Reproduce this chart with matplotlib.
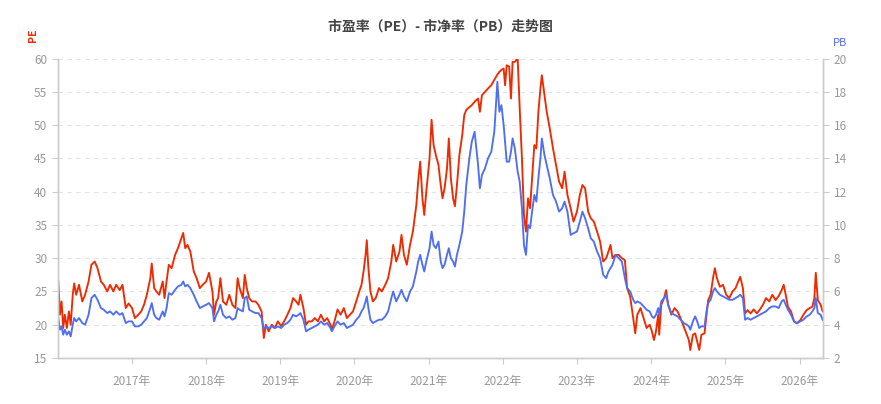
import pandas as pd
import matplotlib
matplotlib.use("Agg")
import matplotlib.pyplot as plt
import matplotlib.dates as mdates

plt.rcParams['font.family'] = ['Noto Sans CJK SC', 'DejaVu Sans']

# dates of the samples
dates = [
    "2016-01-04", "2016-01-12", "2016-01-20", "2016-01-28", "2016-02-05", "2016-02-15", "2016-02-25",
    "2016-03-05", "2016-03-15", "2016-03-22", "2016-04-01", "2016-04-15", "2016-05-01", "2016-05-15",
    "2016-06-01", "2016-06-15", "2016-07-01", "2016-07-15", "2016-08-01", "2016-08-15", "2016-09-01",
    "2016-09-15", "2016-10-01", "2016-10-15", "2016-11-01", "2016-11-15", "2016-12-01", "2016-12-15",
    "2017-01-01", "2017-01-15", "2017-02-01", "2017-02-15", "2017-03-01", "2017-03-15", "2017-04-01",
    "2017-04-08", "2017-04-20", "2017-05-01", "2017-05-15", "2017-06-01", "2017-06-10", "2017-06-20",
    "2017-07-01", "2017-07-15", "2017-08-01", "2017-08-15", "2017-09-01", "2017-09-10", "2017-09-20",
    "2017-10-01", "2017-10-15", "2017-11-01", "2017-11-15", "2017-12-01", "2017-12-15",
    "2018-01-01", "2018-01-15", "2018-02-01", "2018-02-09", "2018-02-20", "2018-03-01", "2018-03-12",
    "2018-03-25", "2018-04-10", "2018-04-25", "2018-05-10", "2018-05-25", "2018-06-05", "2018-06-15",
    "2018-07-01", "2018-07-10", "2018-07-20", "2018-08-01", "2018-08-15", "2018-09-01", "2018-09-15",
    "2018-10-01", "2018-10-12", "2018-10-22", "2018-11-05", "2018-11-20", "2018-12-05", "2018-12-20",
    "2019-01-05", "2019-01-20", "2019-02-05", "2019-02-20", "2019-03-05", "2019-03-20", "2019-04-01",
    "2019-04-10", "2019-04-25", "2019-05-08", "2019-05-20", "2019-06-05", "2019-06-20", "2019-07-05",
    "2019-07-20", "2019-08-05", "2019-08-20", "2019-09-05", "2019-09-12", "2019-09-25", "2019-10-10",
    "2019-10-25", "2019-11-10", "2019-11-25", "2019-12-10", "2019-12-25",
    "2020-01-10", "2020-01-25", "2020-02-05", "2020-02-15", "2020-02-25", "2020-03-02", "2020-03-10",
    "2020-03-20", "2020-04-01", "2020-04-15", "2020-05-01", "2020-05-15", "2020-06-01", "2020-06-15",
    "2020-07-01", "2020-07-10", "2020-07-25", "2020-08-10", "2020-08-20", "2020-09-01", "2020-09-15",
    "2020-10-01", "2020-10-15", "2020-11-01", "2020-11-10", "2020-11-20", "2020-12-01", "2020-12-10",
    "2020-12-20",
    "2021-01-05", "2021-01-15", "2021-01-25", "2021-02-05", "2021-02-18", "2021-03-01", "2021-03-10",
    "2021-03-20", "2021-04-01", "2021-04-10", "2021-04-20", "2021-05-01", "2021-05-10", "2021-05-20",
    "2021-06-01", "2021-06-15", "2021-06-25", "2021-07-05", "2021-07-20", "2021-08-01", "2021-08-15",
    "2021-09-01", "2021-09-10", "2021-09-20", "2021-10-05", "2021-10-20", "2021-11-05", "2021-11-20",
    "2021-12-05", "2021-12-15", "2021-12-25",
    "2022-01-05", "2022-01-12", "2022-01-20", "2022-02-01", "2022-02-10", "2022-02-18", "2022-03-01",
    "2022-03-15", "2022-03-25", "2022-04-05", "2022-04-15", "2022-04-25", "2022-05-05", "2022-05-15",
    "2022-05-25", "2022-06-05", "2022-06-15", "2022-06-25", "2022-07-05", "2022-07-12", "2022-07-25",
    "2022-08-05", "2022-08-20", "2022-09-05", "2022-09-20", "2022-10-05", "2022-10-20", "2022-11-01",
    "2022-11-15", "2022-12-01", "2022-12-15",
    "2023-01-01", "2023-01-15", "2023-01-28", "2023-02-10", "2023-02-25", "2023-03-10", "2023-03-25",
    "2023-04-10", "2023-04-25", "2023-05-10", "2023-05-25", "2023-06-05", "2023-06-15", "2023-06-25",
    "2023-07-10", "2023-07-25", "2023-08-10", "2023-08-25", "2023-09-05", "2023-09-20", "2023-10-05",
    "2023-10-15", "2023-10-25", "2023-11-10", "2023-11-25", "2023-12-10", "2023-12-25",
    "2024-01-05", "2024-01-15", "2024-01-25", "2024-02-05", "2024-02-10", "2024-02-20", "2024-03-05",
    "2024-03-15", "2024-03-25", "2024-04-10", "2024-04-25", "2024-05-10", "2024-05-25", "2024-06-10",
    "2024-06-25", "2024-07-05", "2024-07-12", "2024-07-25", "2024-08-05", "2024-08-15", "2024-08-25",
    "2024-09-05", "2024-09-20", "2024-09-30", "2024-10-08", "2024-10-20", "2024-11-01", "2024-11-10",
    "2024-11-20", "2024-12-05", "2024-12-20",
    "2025-01-05", "2025-01-20", "2025-02-05", "2025-02-20", "2025-03-05", "2025-03-15", "2025-03-28",
    "2025-04-08", "2025-04-20", "2025-05-05", "2025-05-20", "2025-06-05", "2025-06-20", "2025-07-05",
    "2025-07-20", "2025-08-05", "2025-08-20", "2025-09-05", "2025-09-20", "2025-10-05", "2025-10-15",
    "2025-10-25", "2025-11-05", "2025-11-20", "2025-12-05", "2025-12-20",
    "2026-01-05", "2026-01-20", "2026-02-05", "2026-02-20", "2026-03-05", "2026-03-15", "2026-03-22",
    "2026-04-01", "2026-04-15", "2026-04-25",
]

pe = [
    26.5, 21.5, 23.5, 19.5, 21.5, 19.5, 22.0,
    20.0, 24.5, 26.2, 24.5, 26.0, 23.5, 24.5,
    26.5, 29.0, 29.5, 28.5, 26.5, 26.0, 25.0,
    26.0, 25.0, 26.0, 25.2, 26.0, 22.5, 23.2,
    22.5, 21.0, 21.5, 22.0, 23.0, 24.5, 27.0,
    29.2, 25.5, 25.0, 24.5, 26.5, 24.0, 26.5,
    29.0, 28.5, 30.5, 31.5, 33.0, 33.8, 31.5,
    32.0, 31.0, 28.0, 27.0, 25.5, 26.0,
    26.5, 27.8, 25.0, 21.5, 23.5, 24.0, 27.0,
    23.5, 23.0, 24.5, 23.0, 22.5, 27.0, 25.5,
    24.0, 27.5, 25.5, 24.0, 23.5, 23.5, 23.0,
    22.0, 18.0, 20.0, 19.0, 20.0, 19.5, 20.5,
    19.8, 20.5, 21.5, 22.5, 24.0, 23.5, 23.0,
    24.5, 22.5, 20.0, 20.5, 20.5, 21.0, 20.5,
    21.5, 20.5, 21.0, 20.0, 19.3, 20.5, 22.3,
    21.5, 22.5, 21.0, 21.5, 22.0,
    23.5, 25.0, 26.0, 28.0, 30.5, 32.7, 28.5,
    25.0, 23.5, 24.0, 25.5, 25.0, 26.0, 27.0,
    29.5, 32.0, 29.5, 31.0, 33.5, 30.5, 29.0,
    32.0, 34.0, 38.0, 41.5, 44.5, 39.0, 36.5,
    40.0,
    45.0, 50.8, 47.0, 45.5, 44.0, 41.0, 39.0,
    40.5, 43.5, 48.0, 42.0, 39.0, 37.8, 41.0,
    45.5, 48.5, 51.5, 52.3, 52.7, 53.0, 53.5,
    54.0, 52.0, 54.5, 55.0, 55.5, 56.0, 56.8,
    57.6, 58.0, 58.3,
    58.5, 56.0, 59.0, 58.8, 54.0, 59.5, 59.5,
    60.0, 52.5, 45.0, 36.5, 34.0, 39.0, 37.5,
    42.0, 47.0, 46.5, 52.0, 55.5, 57.5, 54.5,
    52.0, 49.5, 46.5, 44.0, 41.5, 40.5, 43.0,
    39.5, 37.5, 35.5,
    37.0, 39.5, 41.0, 40.5, 37.0, 36.0, 35.5,
    34.0, 32.5, 29.5, 30.0, 31.0, 32.0, 30.0,
    30.5, 30.5, 30.0, 29.7, 25.5, 24.2, 21.0,
    18.7, 21.5, 22.5, 21.0, 19.5, 20.0,
    19.0, 17.7, 19.0, 21.5, 18.5, 23.0, 24.0,
    25.2, 23.0, 21.5, 22.5, 22.0, 21.0, 19.7,
    18.5, 17.7, 16.2, 18.5, 18.7, 17.5, 16.2,
    18.5, 18.7, 21.5, 23.7, 24.5, 27.0, 28.5,
    27.0, 25.7, 26.0,
    24.5, 24.0, 25.0, 25.5, 26.5, 27.2, 25.5,
    21.7, 22.2, 21.7, 22.3, 21.7, 22.3, 23.0,
    24.0, 23.5, 24.5, 23.7, 24.3, 25.2, 26.0,
    24.5, 22.7, 22.0, 20.5, 20.2,
    20.7, 21.5, 22.2, 22.5, 22.7, 24.0, 27.8,
    23.7, 23.0, 22.0,
]

# PB values, read on the right axis
pb = [
    4.4, 3.7, 3.9, 3.4, 3.7, 3.4, 3.6,
    3.3, 4.0, 4.4, 4.2, 4.4, 4.1, 4.0,
    4.6, 5.6, 5.8, 5.5, 5.0, 4.9, 4.7,
    4.8, 4.6, 4.8, 4.6, 4.7, 4.1, 4.2,
    4.2, 3.9, 3.9, 4.0, 4.2, 4.4, 5.0,
    5.3, 4.6, 4.4, 4.3, 4.8, 4.5, 5.0,
    5.9, 5.8, 6.1, 6.3, 6.4, 6.6, 6.3,
    6.4, 6.2, 5.8, 5.4, 5.0, 5.1,
    5.2, 5.3, 5.0, 4.2, 4.6, 4.8, 5.2,
    4.6, 4.4, 4.5, 4.3, 4.4, 5.0, 4.9,
    4.8, 5.6, 5.7, 4.9, 4.8, 4.7, 4.7,
    4.4, 3.7, 3.9, 3.8, 3.9, 3.8, 3.9,
    3.8, 4.0, 4.1, 4.3, 4.6, 4.5, 4.6,
    4.7, 4.3, 3.6, 3.7, 3.8, 3.9, 4.0,
    4.2, 4.0, 4.1, 3.8, 3.6, 3.9, 4.2,
    4.0, 4.1, 3.8, 3.9, 4.0,
    4.3, 4.5, 4.8, 5.0, 5.4, 5.7, 5.0,
    4.3, 4.1, 4.2, 4.3, 4.3, 4.5, 4.8,
    5.6, 6.0, 5.4, 5.8, 6.1, 5.7, 5.4,
    6.0, 6.3, 7.2, 7.8, 8.2, 7.6, 7.2,
    7.8,
    8.6, 9.6, 8.8, 8.6, 9.0, 7.8, 7.4,
    7.6, 8.2, 8.6, 8.0, 7.8, 7.5, 8.2,
    8.8, 9.6, 10.8, 12.4, 14.0, 15.0, 15.6,
    13.6, 12.2, 13.0, 13.4, 14.0, 14.4, 15.6,
    18.6, 16.8, 17.2,
    16.0, 15.0, 13.8, 13.8, 14.4, 15.2, 14.6,
    13.2, 12.6, 11.0, 8.8, 8.2, 10.0, 9.8,
    10.8, 11.8, 11.4, 12.8, 14.0, 15.2, 14.2,
    13.6, 12.8, 11.8, 11.4, 10.8, 11.0, 11.4,
    10.8, 9.4, 9.5,
    9.6, 10.2, 10.8, 10.4, 9.8, 9.2, 9.0,
    8.4, 8.0, 7.0, 6.8, 7.2, 7.4, 7.6,
    8.2, 8.0, 7.8, 6.8, 6.2, 6.0, 5.5,
    5.3, 5.4, 5.3, 5.1, 4.9, 4.8,
    4.5, 4.4, 4.6, 5.0, 4.6, 5.4, 5.6,
    5.8, 5.2, 4.7, 4.6, 4.5, 4.3, 4.1,
    4.0, 3.9, 3.7, 4.2, 4.5, 4.2, 3.8,
    3.9, 3.9, 4.8, 5.3, 5.5, 6.0, 6.2,
    6.0, 5.8, 5.7,
    5.6, 5.5, 5.5, 5.6, 5.7, 5.8, 5.6,
    4.3, 4.4, 4.3, 4.4, 4.5, 4.6, 4.7,
    4.8, 5.0, 5.1, 5.1, 5.0, 5.4, 5.5,
    5.2, 4.9, 4.6, 4.2, 4.1,
    4.2, 4.3, 4.5, 4.6, 4.8, 5.0, 5.6,
    4.7, 4.6, 4.3,
]

df = pd.DataFrame({"date": pd.to_datetime(dates), "PE": pe, "PB": pb})

red = "#ee2a00"
blue = "#4f6ef2"
grey_txt = "#999999"
axis_col = "#cccccc"

fig = plt.figure(figsize=(8.81, 4.04), dpi=100)
ax = fig.add_axes([0.0655, 0.1139, 0.869, 0.7411])
ax2 = ax.twinx()

ax.plot(df["date"], df["PE"], color=red, lw=1.35)
ax2.plot(df["date"], df["PB"], color=blue, lw=1.35)

ax.set_ylim(15, 60)
ax.set_yticks(range(15, 61, 5))
ax2.set_ylim(2, 20)
ax2.set_yticks(range(2, 21, 2))
ax.set_xlim(pd.Timestamp("2016-01-01"), pd.Timestamp("2026-04-28"))

ax.xaxis.set_major_locator(mdates.YearLocator(base=1, month=1, day=1))
ax.xaxis.set_major_formatter(mdates.DateFormatter("%Y年"))

ax.grid(axis="y", color="#e3e3e3", linestyle=(0, (4, 4)), lw=0.8)
ax.set_axisbelow(True)

for a in (ax, ax2):
    a.spines["top"].set_visible(False)
    for s in ("left", "right", "bottom"):
        a.spines[s].set_color(axis_col)
        a.spines[s].set_linewidth(1.0)
    a.tick_params(colors=grey_txt, labelsize=8.5, length=4, width=0.8)
    a.tick_params(axis="both", color=axis_col)
ax.tick_params(axis="x", pad=8)

# 2016 sits on the left edge, the original shows no label there
ax.set_xticks([t for t in ax.get_xticks() if mdates.num2date(t).year >= 2017])

fig.text(0.5, 0.935, "市盈率（PE）- 市净率（PB）走势图", ha="center", va="center",
         fontsize=10, fontweight="bold", color="#444444")
fig.text(0.037, 0.913, "PE", rotation=90, ha="center", va="center", fontsize=7.5,
         color=red, fontweight="bold")
fig.text(0.953, 0.893, "PB", ha="center", va="center", fontsize=8, color=blue)

fig.savefig("out.png", dpi=100)
